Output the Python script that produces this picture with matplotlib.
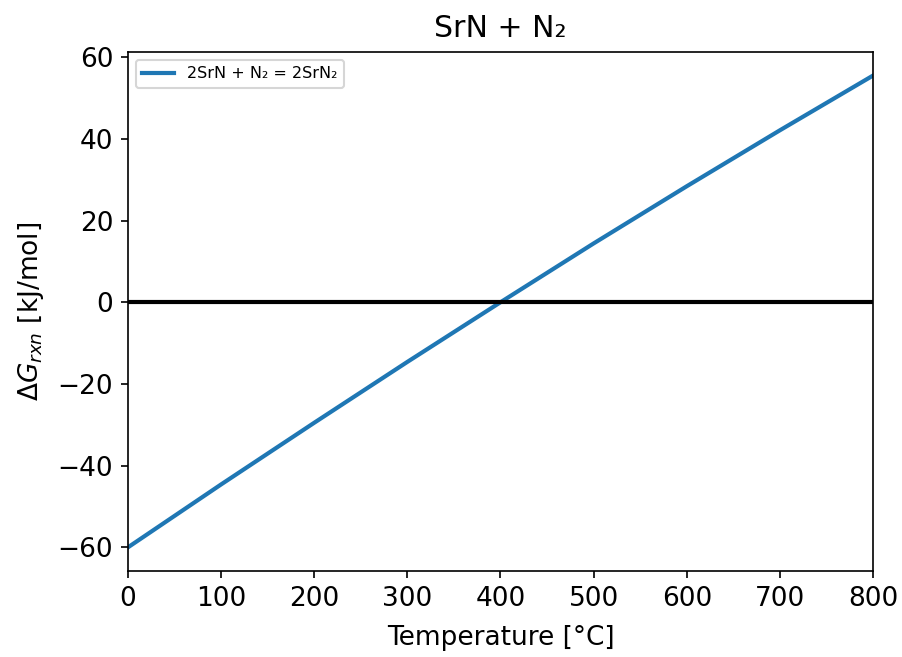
import matplotlib
matplotlib.use("Agg")
import matplotlib.pyplot as plt

temperature = [0, 100, 200, 300, 400, 500, 600, 700, 800]
dG = [-60.0, -44.6, -29.5, -14.6, 0.0, 14.4, 28.4, 42.1, 55.5]
label = "2SrN + N₂ = 2SrN₂"
title = "SrN + N₂"

fig = plt.figure(figsize=(6.02, 4.38), dpi=150)
ax = fig.add_axes([0.1417, 0.131, 0.9668 - 0.1417, 0.9209 - 0.131])
ax.plot(temperature, dG, color="#1f77b4", lw=2, label=label)
ax.axhline(0, color="black", lw=2)
ax.set_xlim(0, 800)
ax.set_title(title, fontsize=14.4, pad=7)
ax.set_xlabel("Temperature [°C]", fontsize=12.7, labelpad=6.5)
ax.set_ylabel(r"$\Delta G_{rxn}$ [kJ/mol]", fontsize=12.7, labelpad=5.5)
ax.tick_params(labelsize=12.7)
ax.legend(loc="upper left", fontsize=7.7)
fig.savefig("out.png", dpi=150)
